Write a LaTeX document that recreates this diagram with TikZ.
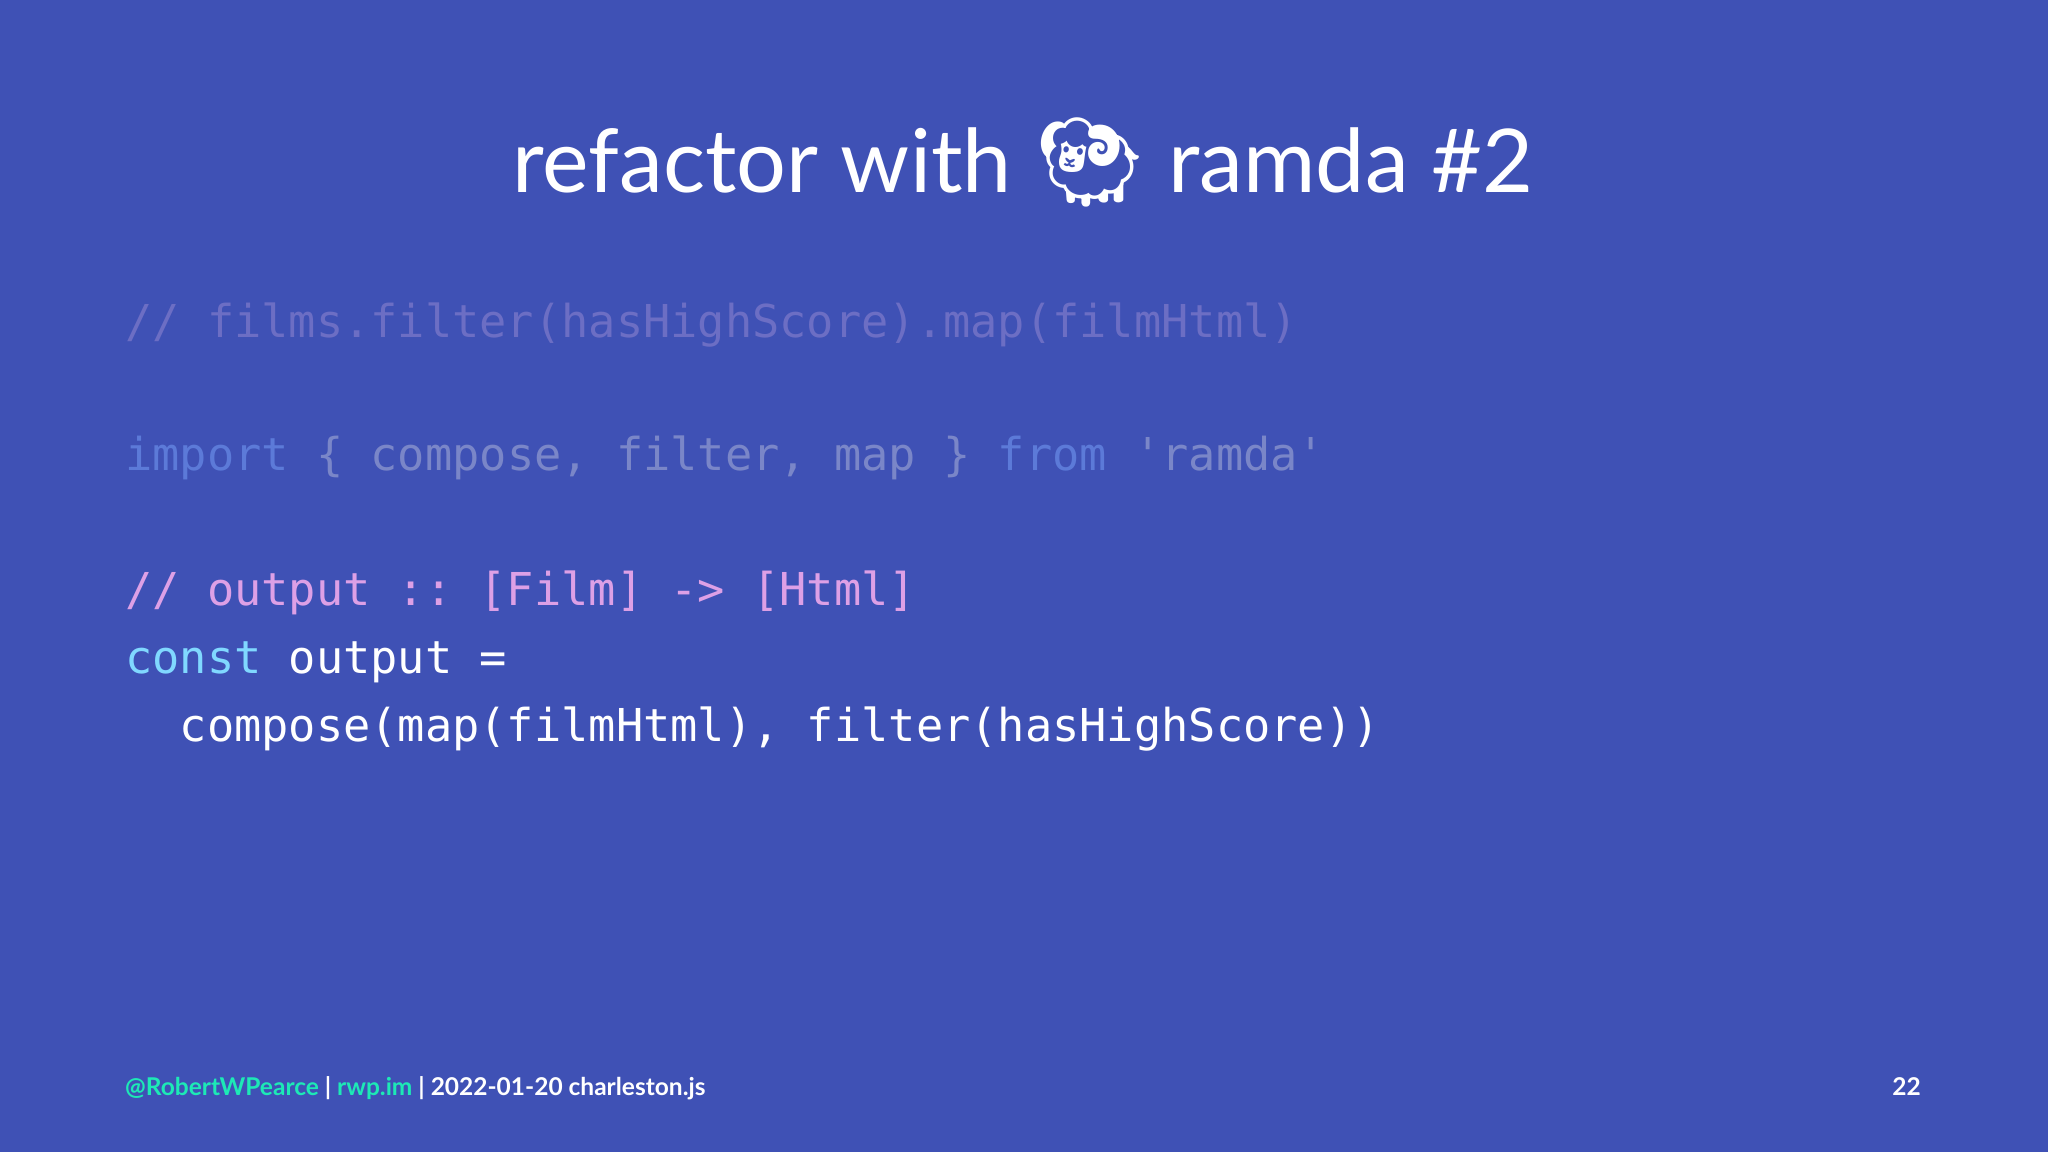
\documentclass[tikz,border=0pt]{standalone}
\usepackage{fontspec}
\setmainfont{Lato}
\setmonofont{DejaVu Sans Mono}
\newfontfamily\emojifont{Noto Emoji}
\usepackage{xcolor}
\definecolor{slidebg}{HTML}{3F51B5}
\definecolor{fadecmt}{HTML}{6C6EC4}
\definecolor{fadetext}{HTML}{7A86C8}
\definecolor{fadekey}{HTML}{5C7AD8}
\definecolor{pinkcmt}{HTML}{DDA0E6}
\definecolor{cyankey}{HTML}{80D8FF}
\definecolor{footgreen}{HTML}{1DE9B6}
\begin{document}
\begin{tikzpicture}[x=1pt,y=-1pt]
\tikzset{
  codeline/.style={anchor=base west,inner sep=0pt,font=\fontsize{45.3}{45}\selectfont\ttfamily,text=white},
  footline/.style={anchor=base west,inner sep=0pt,font=\fontsize{24.5}{24}\selectfont\bfseries,text=white}
}
\fill [slidebg] (0,0) rectangle (2048,1152);
% title
\node (title) [anchor=base,inner sep=0pt,text=white,font=\fontsize{88}{88}\selectfont] at (1023,192)
  {refactor with {\emojifont 🐏} ramda \#2};
% code
\node (cmt) [codeline,text=fadecmt] at (125,337) {// films.filter(hasHighScore).map(filmHtml)};
\node (imp) [codeline,text=fadetext] at (125,470)
  {\textcolor{fadekey}{import} \{ compose, filter, map \} \textcolor{fadekey}{from} 'ramda'};
\node (sig) [codeline,text=pinkcmt] at (125,605) {// output :: [Film] -> [Html]};
\node (decl) [codeline] at (125,673) {\textcolor{cyankey}{const} output =};
\node (body) [codeline] at (125,741) {\ \ compose(map(filmHtml), filter(hasHighScore))};
% footer
\node (foot) [footline] at (125,1095)
  {\textcolor{footgreen}{@RobertWPearce} | \textcolor{footgreen}{rwp.im} | 2022-01-20 charleston.js};
\node (page) [footline,anchor=base east] at (1921,1095) {22};
\end{tikzpicture}
\end{document}
